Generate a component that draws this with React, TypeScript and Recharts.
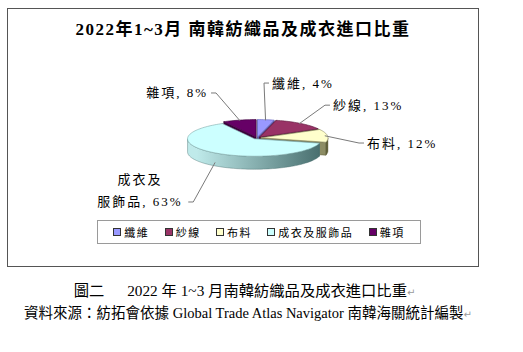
import { Legend, Pie, PieChart } from "recharts";

const CATEGORIES = ["纖維", "紗線", "布料", "成衣及服飾品", "雜項"];
const SHARES = [4, 13, 12, 63, 8];

// Excel 2003 palette: top face, wall gradient ends, cut faces
const TOP_COLORS = ["#9999ff", "#993366", "#ffffcc", "#ccffff", "#660066"];
const WALL_LIGHT = ["#8a8ae6", "#80294f", "#d2d2a8", "#bfeaea", "#520052"];
const WALL_DARK = ["#4a4a8a", "#3e1026", "#5f5f3a", "#456b6b", "#2a002a"];
const FACE_COLORS = ["#6666bb", "#5c1a3c", "#8c8c64", "#7fa8a8", "#3c003c"];

// label spot as [dx, dy] in pie radii from the centre + which side the leader joins
const LABEL_SPOT: [number, number, string][] = [
  [0.224, -0.82, "start"],
  [1.134, -0.49, "start"],
  [1.642, 0.075, "start"],
  [-1.746, 0.955, "middle"],
  [-0.731, -0.672, "end"],
];

const pieData = CATEGORIES.map((name, i) => ({ name, value: SHARES[i] }));

const FONT = "'Liberation Serif', 'Noto Sans CJK TC', serif";
const CX = 257;
const CY = 138;
const R = 67;
const TILT = 0.26; // squash of the ellipse
const DEPTH = 13; // thickness of the disc
const GAP = 4; // explode distance
const RAD = Math.PI / 180;

type Pt = [number, number];

const onRim = (cx: number, cy: number, r: number, a: number, drop = 0): Pt => [
  cx + r * Math.cos(a * RAD),
  cy - r * TILT * Math.sin(a * RAD) + drop,
];

const rim = (cx: number, cy: number, r: number, a0: number, a1: number, drop = 0): Pt[] => {
  const n = Math.max(2, Math.ceil(Math.abs(a1 - a0) / 2));
  const out: Pt[] = [];
  for (let k = 0; k <= n; k++) out.push(onRim(cx, cy, r, a0 + ((a1 - a0) * k) / n, drop));
  return out;
};

const toPath = (pts: Pt[]) =>
  "M" + pts.map((p) => `${p[0].toFixed(2)},${p[1].toFixed(2)}`).join("L") + "Z";

const pulled = (cx: number, cy: number, mid: number): Pt => [
  cx + GAP * Math.cos(mid * RAD),
  cy - GAP * TILT * Math.sin(mid * RAD),
];

const sliceIndex = (p: any) => CATEGORIES.indexOf(p.name ?? p.payload?.name);

// cut faces of each exploded slice
const SideFaces = (p: any) => {
  const i = sliceIndex(p);
  const mid = (p.startAngle + p.endAngle) / 2;
  const [cx, cy] = pulled(p.cx, p.cy, mid);
  return (
    <g>
      {[p.startAngle, p.endAngle].map((a: number, k: number) => {
        const [x, y] = onRim(cx, cy, p.outerRadius, a);
        return (
          <path
            key={k}
            d={toPath([[cx, cy], [x, y], [x, y + DEPTH], [cx, cy + DEPTH]])}
            fill={FACE_COLORS[i]}
            stroke={WALL_DARK[i]}
            strokeWidth={0.5}
          />
        );
      })}
    </g>
  );
};

// curved outer wall, only the front half shows
const OuterWall = (p: any) => {
  const i = sliceIndex(p);
  const r = p.outerRadius;
  const mid = (p.startAngle + p.endAngle) / 2;
  const [cx, cy] = pulled(p.cx, p.cy, mid);
  const lo = Math.min(p.startAngle, p.endAngle);
  const hi = Math.max(p.startAngle, p.endAngle);
  const parts: string[] = [];
  for (let k = -2; k <= 1; k++) {
    const a = Math.max(lo, 180 + 360 * k);
    const b = Math.min(hi, 360 + 360 * k);
    if (b > a) parts.push(toPath([...rim(cx, cy, r, a, b), ...rim(cx, cy, r, b, a, DEPTH)]));
  }
  const id = `wall-grad-${i}`;
  return (
    <g>
      <defs>
        <linearGradient id={id} gradientUnits="userSpaceOnUse" x1={p.cx - r} x2={p.cx + r} y1={0} y2={0}>
          <stop offset="0.05" stopColor={WALL_LIGHT[i]} />
          <stop offset="1" stopColor={WALL_DARK[i]} />
        </linearGradient>
      </defs>
      {parts.map((d, k) => (
        <path key={k} d={d} fill={`url(#${id})`} stroke={WALL_DARK[i]} strokeWidth={0.4} />
      ))}
    </g>
  );
};

const TopFace = (p: any) => {
  const i = sliceIndex(p);
  const mid = (p.startAngle + p.endAngle) / 2;
  const [cx, cy] = pulled(p.cx, p.cy, mid);
  return (
    <path
      d={toPath([[cx, cy], ...rim(cx, cy, p.outerRadius, p.startAngle, p.endAngle)])}
      fill={TOP_COLORS[i]}
      stroke={FACE_COLORS[i]}
      strokeWidth={0.6}
    />
  );
};

const SliceLabel = (p: any) => {
  const i = sliceIndex(p);
  if (i < 0) return null;
  const [kx, ky, side] = LABEL_SPOT[i];
  const r = p.outerRadius;
  const tx = p.cx + kx * r;
  const ty = p.cy + ky * r;
  const mid = p.midAngle;
  const [cx, cy] = pulled(p.cx, p.cy, mid);
  const front = Math.sin(mid * RAD) < 0;
  const [ax, ay] = onRim(cx, cy, r * 0.96, mid, front ? DEPTH * 0.8 : 0);
  const name = CATEGORIES[i];
  const lines =
    name.length > 4
      ? [name.slice(0, 3), `${name.slice(3)}, ${SHARES[i]}%`]
      : [`${name}, ${SHARES[i]}%`];

  let jx = tx - 3;
  let ex = tx - 8;
  if (side === "end") {
    jx = tx + 3;
    ex = tx + 8;
  } else if (side === "middle") {
    jx = tx + 0.72 * r;
    ex = jx + 5;
  }

  return (
    <g>
      <polyline
        points={`${ax},${ay} ${ex},${ty} ${jx},${ty}`}
        fill="none"
        stroke="#7a7a7a"
        strokeWidth={1}
      />
      {lines.map((ln, k) => (
        <text
          key={k}
          x={tx}
          y={ty - (lines.length - 1 - k) * 22}
          textAnchor={side}
          dominantBaseline="central"
          fontFamily={FONT}
          fontSize={13}
          letterSpacing={2}
          fill="#000"
        >
          {ln}
        </text>
      ))}
    </g>
  );
};

const LegendBox = () => (
  <div
    style={{
      width: 324,
      height: 24,
      boxSizing: "border-box",
      border: "1px solid #9a9a9a",
      display: "flex",
      alignItems: "center",
      justifyContent: "space-evenly",
      fontFamily: FONT,
      fontSize: 11,
      letterSpacing: 1.5,
      color: "#000",
      background: "#fff",
    }}
  >
    {CATEGORIES.map((c, i) => (
      <div key={c} style={{ display: "flex", alignItems: "center" }}>
        <span
          style={{
            width: 6,
            height: 6,
            background: TOP_COLORS[i],
            border: "1px solid #333",
            marginRight: 3,
            display: "inline-block",
          }}
        />
        <span>{c}</span>
      </div>
    ))}
  </div>
);

const returnMark = <span style={{ color: "#9a9a9a", fontSize: 10, fontFamily: "DejaVu Sans" }}>↵</span>;

export default function App() {
  return (
    <div
      style={{
        position: "absolute",
        left: 0,
        top: 0,
        width: 523,
        height: 352,
        background: "#fff",
        fontFamily: FONT,
        color: "#000",
      }}
    >
      {/* chart frame */}
      <div
        style={{
          position: "absolute",
          left: 7,
          top: 8,
          width: 470,
          height: 257,
          border: "1px solid #555",
        }}
      />
      <div
        style={{
          position: "absolute",
          left: 8,
          top: 19,
          width: 470,
          textAlign: "center",
          fontSize: 17,
          fontWeight: 700,
          letterSpacing: 1.5,
          lineHeight: "22px",
        }}
      >
        2022年1~3月 南韓紡織品及成衣進口比重
      </div>

      <div style={{ position: "absolute", left: 0, top: 0 }}>
        <PieChart width={523} height={352} margin={{ top: 0, right: 0, bottom: 0, left: 0 }}>
          <Pie
            data={pieData}
            dataKey="value"
            nameKey="name"
            cx={CX}
            cy={CY}
            outerRadius={R}
            startAngle={90}
            endAngle={-270}
            shape={SideFaces}
            activeShape={SideFaces}
            inactiveShape={SideFaces}
            isAnimationActive={false}
          />
          <Pie
            data={pieData}
            dataKey="value"
            nameKey="name"
            cx={CX}
            cy={CY}
            outerRadius={R}
            startAngle={90}
            endAngle={-270}
            shape={OuterWall}
            activeShape={OuterWall}
            inactiveShape={OuterWall}
            isAnimationActive={false}
          />
          <Pie
            data={pieData}
            dataKey="value"
            nameKey="name"
            cx={CX}
            cy={CY}
            outerRadius={R}
            startAngle={90}
            endAngle={-270}
            shape={TopFace}
            activeShape={TopFace}
            inactiveShape={TopFace}
            label={SliceLabel}
            labelLine={false}
            isAnimationActive={false}
          />
          <Legend
            content={<LegendBox />}
            wrapperStyle={{ left: 97, top: 220, width: 324, height: 24, bottom: "auto" }}
          />
        </PieChart>
      </div>

      <div
        style={{
          position: "absolute",
          left: 0,
          top: 281,
          width: 489,
          textAlign: "center",
          fontSize: 15.3,
          lineHeight: "20px",
          whiteSpace: "pre",
        }}
      >
        圖二　  2022 年 1~3 月南韓紡織品及成衣進口比重{returnMark}
      </div>
      <div
        style={{
          position: "absolute",
          left: 0,
          top: 303,
          width: 496,
          textAlign: "center",
          fontSize: 14.5,
          lineHeight: "20px",
          whiteSpace: "pre",
        }}
      >
        資料來源：紡拓會依據 Global Trade Atlas Navigator 南韓海關統計編製{returnMark}
      </div>
    </div>
  );
}
